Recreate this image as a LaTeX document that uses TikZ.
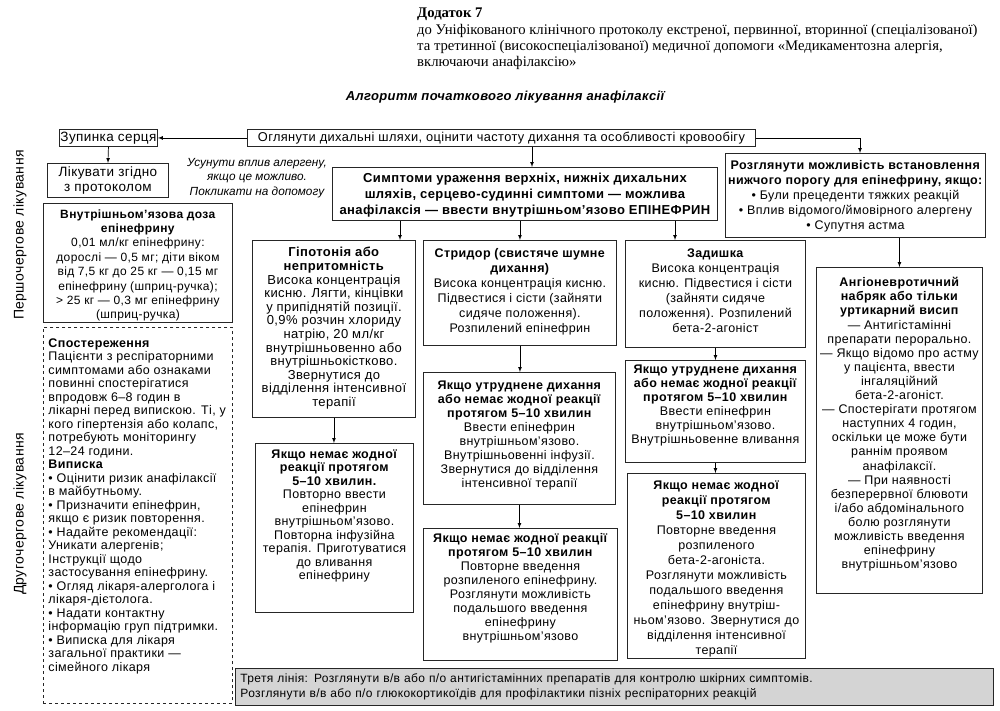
\documentclass[tikz,border=0pt]{standalone}
\usepackage{fontspec}
\setmainfont{Liberation Sans}[LetterSpace=3]
\newfontfamily\headfont{Liberation Serif}
\usetikzlibrary{positioning}

% box contents: width, height, top gap, text
\newcommand{\bx}[4]{\parbox[c][#2][t]{#1}{\centering\vspace*{#3}#4}}
\newcommand{\bxl}[4]{\parbox[c][#2][t]{#1}{\raggedright\leftskip=5pt\vspace*{#3}#4}}

\tikzset{
  box/.style={draw=black!85, line width=0.9pt, inner xsep=0pt, inner ysep=6pt,
    anchor=north west, font=\fontsize{12.5}{14}\selectfont},
  lead/.style={font=\fontsize{12.5}{#1}\selectfont},
  onebox/.style={draw=black!85, line width=0.9pt, inner sep=1pt, align=center,
    anchor=north west, font=\fontsize{12.5}{14}\selectfont},
  obsbox/.style={box, dashed},
  notebox/.style={onebox, fill=black!17, align=left, text width=748pt, inner xsep=5pt},
  arr/.style={->, line width=0.7pt},
}

\begin{document}
\begin{tikzpicture}[>=latex, x=1pt, y=-1pt]
  \useasboundingbox (0,0) rectangle (1000,711);

  % header and title
  \node[anchor=north west, align=left, inner sep=0pt, font=\headfont\fontsize{14.7}{16.3}\selectfont] (head) at (417,8)
    {\textbf{Додаток 7}\\до Уніфікованого клінічного протоколу екстреної, первинної, вторинної (спеціалізованої)\\та третинної (високоспеціалізованої) медичної допомоги «Медикаментозна алергія,\\включаючи анафілаксію»};
  \node[font=\fontsize{13}{15}\selectfont\bfseries\itshape] (title) at (505,97)
    {Алгоритм початкового лікування анафілаксії};

  % side labels
  \node[rotate=90, font=\fontsize{14}{16}\selectfont] (first) at (20,235) {Першочергове лікування};
  \node[rotate=90, font=\fontsize{14}{16}\selectfont] (second) at (20,514) {Другочергове лікування};

  % top row
  \node[onebox, minimum width=98pt, minimum height=17pt, font=\fontsize{13.5}{14}\selectfont] (zup) at (59,129) {Зупинка серця};
  \node[onebox, minimum width=508pt, minimum height=17pt, font=\fontsize{12.8}{14}\selectfont] (ogl) at (247,129)
    {Оглянути дихальні шляхи, оцінити частоту дихання та особливості кровообігу};
  \node[onebox, minimum width=121pt, minimum height=34pt, font=\fontsize{13.5}{15.5}\selectfont] (likuv) at (47,163)
    {Лікувати згідно\\з протоколом};
  \node[align=center, font=\fontsize{11.8}{14.5}\selectfont\itshape\addfontfeature{LetterSpace=0}] (note) at (257,178)
    {Усунути вплив алергену,\\якщо це можливо.\\Покликати на допомогу};

  % epinephrine dose
  \node[box, font=\fontsize{12}{14.4}\selectfont] (imdose) at (43,203)
    {\bx{189pt}{107pt}{0pt}{\textbf{Внутрішньом’язова доза}\\\textbf{епінефрину}\\0,01 мл/кг епінефрину:\\дорослі — 0,5 мг; діти віком\\від 7,5 кг до 25 кг — 0,15 мг\\епінефрину (шприц-ручка);\\> 25 кг — 0,3 мг епінефрину\\(шприц-ручка)}};

  \node[box, font=\fontsize{13}{16}\selectfont\bfseries] (sympt) at (332,167)
    {\bx{385pt}{41pt}{0pt}{Симптоми ураження верхніх, нижніх дихальних\\шляхів, серцево-судинні симптоми — можлива\\анафілаксія — ввести внутрішньом’язово ЕПІНЕФРИН}};
  \node[box, lead=15] (thresh) at (725,153)
    {\bx{260pt}{72pt}{1pt}{\textbf{Розглянути можливість встановлення}\\\textbf{нижчого порогу для епінефрину, якщо:}\\• Були прецеденти тяжких реакцій\\• Вплив відомого/ймовірного алергену\\• Супутня астма}};

  % three columns
  \node[box, font=\fontsize{13}{13.6}\selectfont] (hypo) at (252,240)
    {\bx{163pt}{165pt}{1pt}{\textbf{Гіпотонія або}\\\textbf{непритомність}\\Висока концентрація\\кисню. Лягти, кінцівки\\у припіднятій позиції.\\0,9\% розчин хлориду\\натрію, 20 мл/кг\\внутрішньовенно або\\внутрішньокістково.\\Звернутися до\\відділення інтенсивної\\терапії}};
  \node[box, lead=15] (strid) at (423,240)
    {\bx{193pt}{93pt}{1.5pt}{\textbf{Стридор (свистяче шумне}\\\textbf{дихання)}\\Висока концентрація кисню.\\Підвестися і сісти (зайняти\\сидяче положення).\\Розпилений епінефрин}};
  \node[box, lead=15] (dysp) at (625,240)
    {\bx{180pt}{95pt}{2pt}{\textbf{Задишка}\\Висока концентрація\\кисню. Підвестися і сісти\\(зайняти сидяче\\положення). Розпилений\\бета-2-агоніст}};
  \node[box, lead=14.1] (angio) at (816,267)
    {\bx{166pt}{314pt}{4pt}{\textbf{Ангіоневротичний}\\\textbf{набряк або тільки}\\\textbf{уртикарний висип}\\— Антигістамінні\\препарати перорально.\\— Якщо відомо про астму\\у пацієнта, ввести\\інгаляційний\\бета-2-агоніст.\\— Спостерігати протягом\\наступних 4 годин,\\оскільки це може бути\\раннім проявом\\анафілаксії.\\— При наявності\\безперервної блювоти\\і/або абдомінального\\болю розглянути\\можливість введення\\епінефрину\\внутрішньом’язово}};

  \node[box, lead=13.5] (hypo2) at (255,443)
    {\bx{158pt}{157pt}{0pt}{\textbf{Якщо немає жодної}\\\textbf{реакції протягом}\\\textbf{5–10 хвилин.}\\Повторно ввести\\епінефрин\\внутрішньом’язово.\\Повторна інфузійна\\терапія. Приготуватися\\до вливання\\епінефрину}};
  \node[box, lead=14.1] (strid2) at (423,372)
    {\bx{192pt}{120pt}{2pt}{\textbf{Якщо утруднене дихання}\\\textbf{або немає жодної реакції}\\\textbf{протягом 5–10 хвилин}\\Ввести епінефрин\\внутрішньом’язово.\\Внутрішньовенні інфузії.\\Звернутися до відділення\\інтенсивної терапії}};
  \node[box, lead=14] (strid3) at (423,528)
    {\bx{194pt}{120pt}{-1pt}{\textbf{Якщо немає жодної реакції}\\\textbf{протягом 5–10 хвилин}\\Повторне введення\\розпиленого епінефрину.\\Розглянути можливість\\подальшого введення\\епінефрину\\внутрішньом’язово}};
  \node[box, lead=14] (dysp2) at (625,360)
    {\bx{180pt}{90pt}{-2pt}{\textbf{Якщо утруднене дихання}\\\textbf{або немає жодної реакції}\\\textbf{протягом 5–10 хвилин}\\Ввести епінефрин\\внутрішньом’язово.\\Внутрішньовенне вливання}};
  \node[box, lead=15] (dysp3) at (627,473)
    {\bx{178pt}{173pt}{1pt}{\textbf{Якщо немає жодної}\\\textbf{реакції протягом}\\\textbf{5–10 хвилин}\\Повторне введення\\розпиленого\\бета-2-агоніста.\\Розглянути можливість\\подальшого введення\\епінефрину внутріш-\\ньом’язово. Звернутися до\\відділення інтенсивної\\терапії}};

  % second line treatment
  \node[obsbox, lead=13.5] (obs) at (43,327)
    {\bxl{189pt}{364pt}{5pt}{\textbf{Спостереження}\\Пацієнти з респіраторними\\симптомами або ознаками\\повинні спостерігатися\\впродовж 6–8 годин в\\лікарні перед випискою. Ті, у\\кого гіпертензія або колапс,\\потребують моніторингу\\12–24 години.\\\textbf{Виписка}\\• Оцінити ризик анафілаксії\\в майбутньому.\\• Призначити епінефрин,\\якщо є ризик повторення.\\• Надайте рекомендації:\\Уникати алергенів;\\Інструкції щодо\\застосування епінефрину.\\• Огляд лікаря-алерголога і\\лікаря-дієтолога.\\• Надати контактну\\інформацію груп підтримки.\\• Виписка для лікаря\\загальної практики —\\сімейного лікаря}};
  \node[notebox, minimum width=758pt, minimum height=37pt, font=\fontsize{12}{15}\selectfont] (third) at (235,668)
    {Третя лінія: Розглянути в/в або п/о антигістамінних препаратів для контролю шкірних симптомів.\\Розглянути в/в або п/о глюкокортикоїдів для профілактики пізніх респіраторних реакцій};

  % connectors
  \coordinate (c1) at (532,0);
  \coordinate (c2) at (400,0);
  \coordinate (c3) at (675,0);
  \coordinate (c4) at (860,0);
  \draw[arr] (ogl) -- (zup);
  \draw[arr] (zup.south) -- (likuv.north);
  \draw[arr] (ogl.east) -| (c4 |- thresh.north);
  \draw[arr] (c1 |- ogl.south) -- (c1 |- sympt.north);
  \draw[arr] (c2 |- sympt.south) -- (c2 |- hypo.north);
  \draw[arr] (strid.north |- sympt.south) -- (strid.north);
  \draw[arr] (c3 |- sympt.south) -- (c3 |- dysp.north);
  \draw[arr] (thresh.south -| angio.north) -- (angio.north);
  \draw[arr] (hypo.south) -- (hypo.south |- hypo2.north);
  \draw[arr] (strid.south) -- (strid.south |- strid2.north);
  \draw[arr] (strid2.south) -- (strid2.south |- strid3.north);
  \draw[arr] (dysp.south) -- (dysp.south |- dysp2.north);
  \draw[arr] (dysp2.south) -- (dysp2.south |- dysp3.north);
\end{tikzpicture}
\end{document}
